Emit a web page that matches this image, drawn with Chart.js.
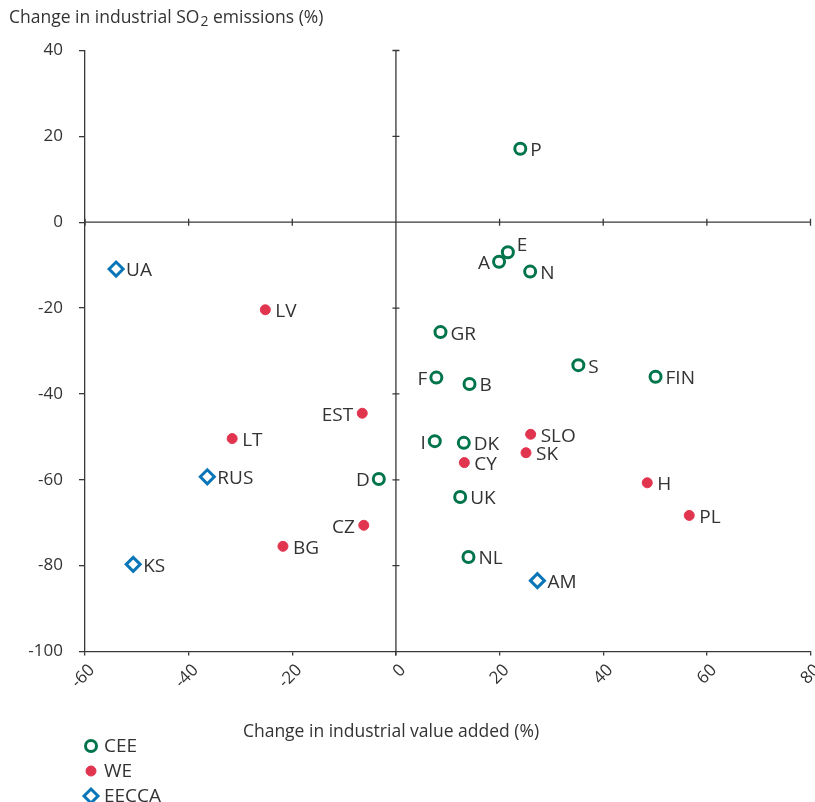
<!DOCTYPE html>
<html>
<head>
<meta charset="utf-8">
<script src="https://cdn.jsdelivr.net/npm/chart.js@4"></script>
<style>
  body { margin: 0; background: #fff; }
  #wrap { width: 815px; height: 802px; }
</style>
</head>
<body>
<div id="wrap"><canvas id="myChart" width="815" height="802"></canvas></div>
<script>
/* DATA */
const ceeNames = ['P', 'E', 'A', 'N', 'GR', 'S', 'F', 'B', 'FIN', 'I', 'DK', 'D', 'UK', 'NL']
const ceeX = [24.0, 21.6, 19.9, 25.9, 8.6, 35.2, 7.8, 14.2, 50.1, 7.5, 13.1, -3.3, 12.4, 14.0]
const ceeY = [17.1, -7.0, -9.2, -11.5, -25.6, -33.3, -36.2, -37.7, -36.0, -51.0, -51.4, -59.8, -64.0, -78.0]

const weNames = ['LV', 'EST', 'LT', 'SLO', 'SK', 'CY', 'H', 'PL', 'CZ', 'BG']
const weX = [-25.2, -6.5, -31.6, 26.0, 25.1, 13.2, 48.5, 56.6, -6.2, -21.8]
const weY = [-20.4, -44.5, -50.4, -49.4, -53.7, -56.0, -60.7, -68.3, -70.6, -75.5]

const eeccaNames = ['UA', 'RUS', 'KS', 'AM']
const eeccaX = [-54.0, -36.4, -50.7, 27.3]
const eeccaY = [-10.9, -59.3, -79.7, -83.5]

const xTicks = [-60, -40, -20, 0, 20, 40, 60, 80]
const yTicks = [40, 20, 0, -20, -40, -60, -80, -100]

/* STYLE */
const FONT = "'Open Sans', sans-serif"
const TEXT = '#333'
const AXIS = '#383838'
// labels drawn to the left of their marker
const leftLabels = ['A', 'F', 'I', 'EST', 'D', 'CZ']
const raisedLabels = ['E']

const toPoints = (xs, ys) => xs.map((x, i) => ({x: x, y: ys[i]}))

/* ZERO LINES */
const zeroLines = {
    id: 'zeroLines',
    beforeDatasetsDraw(chart){
        const {ctx, chartArea, scales: {x, y}} = chart
        const x0 = x.getPixelForValue(0), y0 = y.getPixelForValue(0)
        ctx.save()
        ctx.strokeStyle = AXIS
        ctx.lineWidth = 1.3
        ctx.beginPath()
        ctx.moveTo(x0, chartArea.top); ctx.lineTo(x0, chartArea.bottom + 4)
        ctx.moveTo(chartArea.left, y0); ctx.lineTo(chartArea.right, y0)
        yTicks.forEach(v => {
            const py = y.getPixelForValue(v)
            if (v !== -100) { ctx.moveTo(x0 - 3.5, py); ctx.lineTo(x0 + 3.5, py) }
        })
        xTicks.forEach(v => {
            const px = x.getPixelForValue(v)
            ctx.moveTo(px, y0 - 3.5); ctx.lineTo(px, y0 + 3.5)
        })
        ctx.stroke()
        ctx.restore()
    }
}

/* POINT LABELS, X TICKS, TITLES, LEGEND */
const extras = {
    id: 'extras',
    afterDatasetsDraw(chart){
        const {ctx, scales: {x, y}} = chart
        ctx.save()
        ctx.fillStyle = TEXT
        ctx.font = '19px ' + FONT
        ctx.textBaseline = 'middle'
        chart.data.datasets.forEach((ds, di) => {
            const meta = chart.getDatasetMeta(di)
            meta.data.forEach((pt, i) => {
                const name = ds.names[i]
                if (leftLabels.includes(name)) {
                    ctx.textAlign = 'right'
                    ctx.fillText(name, pt.x - 9, pt.y + 2)
                } else if (raisedLabels.includes(name)) {
                    ctx.textAlign = 'left'
                    ctx.fillText(name, pt.x + 9, pt.y - 7)
                } else {
                    ctx.textAlign = 'left'
                    ctx.fillText(name, pt.x + 10, pt.y + 2)
                }
            })
        })

        // rotated x tick labels, text ends just right of the tick
        ctx.font = '17px ' + FONT
        ctx.textAlign = 'right'
        xTicks.forEach(v => {
            ctx.save()
            ctx.translate(x.getPixelForValue(v) + 7, y.bottom + 16)
            ctx.rotate(-Math.PI / 4)
            ctx.fillText(String(v), 0, 0)
            ctx.restore()
        })

        // axis titles
        ctx.font = '17.5px ' + FONT
        ctx.textAlign = 'center'
        ctx.fillText('Change in industrial value added (%)', 391, 732)

        ctx.textAlign = 'left'
        let tx = 9
        const part1 = 'Change in industrial SO'
        ctx.fillText(part1, tx, 18)
        tx += ctx.measureText(part1).width
        ctx.font = '14px ' + FONT
        ctx.fillText('2', tx + 1, 22)
        tx += ctx.measureText('2').width + 1
        ctx.font = '17.5px ' + FONT
        ctx.fillText(' emissions (%)', tx, 18)

        // legend
        const rows = [746, 771, 796]
        chart.data.datasets.forEach((ds, di) => {
            const ly = rows[di]
            ctx.save()
            ctx.fillStyle = ds.backgroundColor
            ctx.strokeStyle = ds.borderColor
            ctx.lineWidth = ds.borderWidth
            Chart.helpers.drawPoint(ctx, {
                pointStyle: ds.pointStyle, radius: ds.pointRadius,
                borderWidth: ds.borderWidth, rotation: 0
            }, 91, ly)
            ctx.restore()
            ctx.fillStyle = TEXT
            ctx.font = '19px ' + FONT
            ctx.textAlign = 'left'
            ctx.fillText(ds.label, 104, ly + 1)
        })
        ctx.restore()
    }
}

const ctx = document.getElementById('myChart').getContext('2d')
const myChart = new Chart(ctx, {
    type: 'scatter',
    data: {
        datasets: [{
            label: 'CEE',
            names: ceeNames,
            data: toPoints(ceeX, ceeY),
            pointStyle: 'circle',
            pointRadius: 5.5,
            borderWidth: 3,
            backgroundColor: '#ffffff',
            borderColor: '#00744a'
        }, {
            label: 'WE',
            names: weNames,
            data: toPoints(weX, weY),
            pointStyle: 'circle',
            pointRadius: 5,
            borderWidth: 1,
            backgroundColor: '#e1344f',
            borderColor: '#e1344f'
        }, {
            label: 'EECCA',
            names: eeccaNames,
            data: toPoints(eeccaX, eeccaY),
            pointStyle: 'rectRot',
            pointRadius: 7,
            borderWidth: 3,
            backgroundColor: '#ffffff',
            borderColor: '#0a76b7'
        }]
    },
    options: {
        responsive: false,
        animation: false,
        devicePixelRatio: 1,
        layout: { autoPadding: false, padding: { top: 50.5, right: 4.5, left: 0, bottom: 0 } },
        scales: {
            x: {
                type: 'linear', min: -60, max: 80,
                afterBuildTicks: s => { s.ticks = xTicks.map(v => ({value: v})) },
                ticks: { display: false },
                grid: { drawOnChartArea: false, drawTicks: true, tickLength: 4, color: AXIS, lineWidth: 1.3 },
                border: { color: AXIS, width: 1.3 },
                afterFit: s => { s.height = 150.5 }
            },
            y: {
                min: -100, max: 40,
                afterBuildTicks: s => { s.ticks = yTicks.map(v => ({value: v})) },
                ticks: { padding: 16, color: TEXT, font: { family: FONT, size: 17 } },
                grid: { drawOnChartArea: false, drawTicks: true, tickLength: 6, color: AXIS, lineWidth: 1.3 },
                border: { color: AXIS, width: 1.3 },
                afterFit: s => { s.width = 85 }
            }
        },
        plugins: {
            legend: { display: false },
            tooltip: { enabled: false }
        }
    },
    plugins: [zeroLines, extras]
})
</script>
</body>
</html>
